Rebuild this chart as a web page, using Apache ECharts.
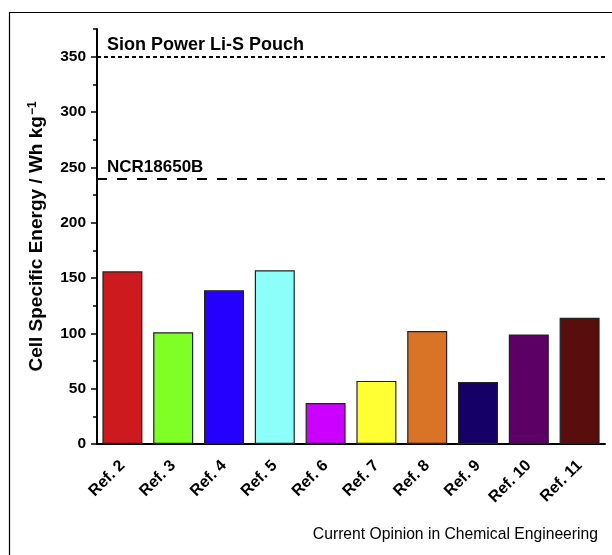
<!DOCTYPE html>
<html>
<head>
<meta charset="utf-8">
<script src="https://cdn.jsdelivr.net/npm/echarts@6/dist/echarts.min.js"></script>
<style>
  html, body { margin: 0; padding: 0; background: #fff; }
  #chart { width: 612px; height: 555px; }
</style>
</head>
<body>
<div id="chart"></div>
<script>
// Cell-level specific energy of Li–S cells reported in the literature
const categories = ['Ref. 2', 'Ref. 3', 'Ref. 4', 'Ref. 5', 'Ref. 6', 'Ref. 7', 'Ref. 8', 'Ref. 9', 'Ref. 10', 'Ref. 11'];
const energyValues = [156, 101, 139, 157, 37, 57, 102, 56, 99, 114];
const barColors = ['#cc1a1e', '#80ff26', '#2600ff', '#8cfffa', '#cc00ff', '#ffff33', '#d97326', '#140066', '#5c0066', '#590d0d'];
const yTickValues = [0, 50, 100, 150, 200, 250, 300, 350];
const yMinorTickValues = [0, 25, 50, 75, 100, 125, 150, 175, 200, 225, 250, 275, 300, 325, 350, 375];
const yMax = 375;
// Benchmark cells drawn as horizontal reference lines
const benchmarkNames = ['Sion Power Li-S Pouch', 'NCR18650B'];
const benchmarkValues = [350, 240];
const benchmarkStyles = ['dotted', 'dashed'];

const FONT = '"Liberation Sans", Arial, Helvetica, sans-serif';
const chart = echarts.init(document.getElementById('chart'), null, { renderer: 'canvas' });

const option = {
  animation: false,
  backgroundColor: '#fff',
  textStyle: { fontFamily: FONT, color: '#000' },
  grid: { left: 97, right: 7, top: 29, bottom: 111, containLabel: false },
  graphic: [
    {
      type: 'rect',
      shape: { x: 9.5, y: 12.5, width: 700, height: 700 },
      style: { fill: 'none', stroke: '#000', lineWidth: 1.2 },
      silent: true, z: 0
    },
    {
      type: 'text',
      right: 14, top: 527,
      style: { text: 'Current Opinion in Chemical Engineering', font: '15.7px ' + FONT, fill: '#000' }
    }
  ],
  xAxis: {
    type: 'category',
    data: categories,
    boundaryGap: true,
    axisLine: { lineStyle: { color: '#000', width: 2 } },
    axisTick: { alignWithLabel: true, length: 7, lineStyle: { color: '#000', width: 1.5 } },
    axisLabel: { rotate: 45, margin: 19, color: '#000', fontWeight: 'bold', fontSize: 16, fontFamily: FONT, interval: 0 },
    splitLine: { show: false }
  },
  yAxis: [
    {
      type: 'value',
      min: 0, max: yMax, interval: 50,
      name: 'Cell Specific Energy / Wh kg{sup|−1}',
      nameLocation: 'middle', nameRotate: 90, nameGap: 50,
      nameTextStyle: {
        color: '#000', fontWeight: 'bold', fontSize: 19, fontFamily: FONT,
        rich: { sup: { fontSize: 12, fontWeight: 'bold', fontFamily: FONT, color: '#000', verticalAlign: 'top', padding: [0, 0, 8, 1] } }
      },
      axisLine: { show: true, lineStyle: { color: '#000', width: 2 } },
      axisTick: { show: true, length: 6, customValues: yTickValues, lineStyle: { color: '#000', width: 1.5 } },
      axisLabel: { customValues: yTickValues, color: '#000', fontWeight: 'bold', fontSize: 15.5, fontFamily: FONT, margin: 11 },
      splitLine: { show: false }
    },
    {
      type: 'value',
      position: 'left',
      min: 0, max: yMax,
      axisLine: { show: false },
      axisTick: { show: true, length: 4, customValues: yMinorTickValues, lineStyle: { color: '#000', width: 1.5 } },
      axisLabel: { show: false },
      splitLine: { show: false }
    }
  ],
  series: [
    {
      type: 'bar',
      yAxisIndex: 0,
      barWidth: 40,
      data: energyValues.map((v, i) => ({ value: v, itemStyle: { color: barColors[i] } })),
      itemStyle: { borderColor: '#222', borderWidth: 1.2 },
      markLine: {
        silent: true,
        symbol: 'none',
        data: benchmarkValues.map((v, i) => ({
          yAxis: v,
          name: benchmarkNames[i],
          lineStyle: { type: benchmarkStyles[i] === 'dotted' ? [4, 3] : [10, 10], color: '#000', width: 2 },
          label: {
            show: true, position: 'insideStartTop', formatter: benchmarkNames[i],
            color: '#000', fontWeight: 'bold', fontSize: i === 0 ? 18 : 17, fontFamily: FONT, distance: [10, 3]
          }
        }))
      }
    }
  ]
};
chart.setOption(option);
</script>
</body>
</html>
